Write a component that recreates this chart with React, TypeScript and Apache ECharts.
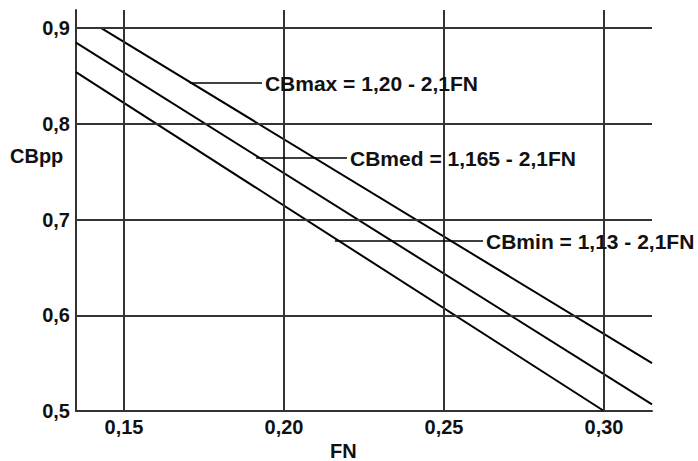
import React, { useEffect, useRef } from "react";
import * as echarts from "echarts";

// Data (FN, CBpp) end points of each straight line
const cbMaxLine: [number, number][] = [
  [0.1429, 0.9],
  [0.315, 0.55],
];
const cbMedLine: [number, number][] = [
  [0.135, 0.885],
  [0.315, 0.507],
];
const cbMinLine: [number, number][] = [
  [0.135, 0.854],
  [0.3, 0.5],
];

const xTicks = [0.15, 0.2, 0.25, 0.3];
const yTicks = [0.5, 0.6, 0.7, 0.8, 0.9];

// Annotation leaders: [xStart, xEnd, y, text]
const annotations: [number, number, number, string][] = [
  [0.1706, 0.1931, 0.8426, "CBmax = 1,20 - 2,1FN"],
  [0.1913, 0.2197, 0.7642, "CBmed = 1,165 - 2,1FN"],
  [0.2159, 0.2622, 0.6775, "CBmin = 1,13 - 2,1FN"],
];

const FONT = "'Liberation Sans', Arial, sans-serif";

export default function App() {
  const ref = useRef<HTMLDivElement>(null);

  useEffect(() => {
    if (!ref.current) return;
    const chart = echarts.init(ref.current, null, { renderer: "svg" });

    const gridLineStyle = { color: "#333", width: 2, type: "solid" as const };
    const lineStyle = { color: "#000", width: 2 };

    const gridMarks = [
      ...xTicks.map((v) => ({ xAxis: v })),
      ...yTicks.slice(1).map((v) => ({ yAxis: v })),
    ];

    const annotationMarks = annotations.map(([x1, x2, y, text]) => [
      { coord: [x1, y] },
      {
        coord: [x2, y],
        label: {
          show: true,
          position: "end",
          formatter: text,
          color: "#111",
          fontFamily: FONT,
          fontWeight: "bold",
          fontSize: 21,
          distance: 3,
        },
      },
    ]);

    chart.setOption({
      animation: false,
      backgroundColor: "#fff",
      grid: { left: 76, right: 46, top: 10, bottom: 50, containLabel: false },
      xAxis: {
        type: "value",
        min: 0.135,
        max: 0.315,
        axisLine: { show: true, lineStyle: { color: "#333", width: 2 } },
        axisTick: { show: false },
        splitLine: { show: false },
        axisLabel: {
          customValues: xTicks,
          formatter: (v: number) => v.toFixed(2).replace(".", ","),
          color: "#111",
          fontFamily: FONT,
          fontWeight: "bold",
          fontSize: 20,
          margin: 6,
        },
      },
      yAxis: {
        type: "value",
        min: 0.5,
        max: 0.919,
        axisLine: { show: true, lineStyle: { color: "#333", width: 2 } },
        axisTick: { show: false },
        splitLine: { show: false },
        axisLabel: {
          customValues: yTicks,
          formatter: (v: number) => v.toFixed(1).replace(".", ","),
          color: "#111",
          fontFamily: FONT,
          fontWeight: "bold",
          fontSize: 20,
          margin: 6,
        },
      },
      graphic: [
        {
          type: "text",
          left: 10,
          top: 146,
          style: {
            text: "CBpp",
            fill: "#111",
            font: `bold 20px ${FONT}`,
          },
        },
        {
          type: "text",
          left: 330,
          top: 441,
          style: {
            text: "FN",
            fill: "#111",
            font: `bold 20px ${FONT}`,
          },
        },
      ],
      series: [
        {
          type: "line",
          name: "grid",
          data: [],
          silent: true,
          markLine: {
            silent: true,
            symbol: ["none", "none"],
            label: { show: false },
            lineStyle: gridLineStyle,
            data: gridMarks,
          },
        },
        {
          type: "line",
          name: "CBmax",
          data: cbMaxLine,
          symbol: "none",
          lineStyle,
          itemStyle: { color: "#000" },
        },
        {
          type: "line",
          name: "CBmed",
          data: cbMedLine,
          symbol: "none",
          lineStyle,
          itemStyle: { color: "#000" },
        },
        {
          type: "line",
          name: "CBmin",
          data: cbMinLine,
          symbol: "none",
          lineStyle,
          itemStyle: { color: "#000" },
          markLine: {
            silent: true,
            symbol: ["none", "none"],
            lineStyle: { color: "#000", width: 1.5, type: "solid" },
            data: annotationMarks,
          },
        },
      ],
    });

    return () => chart.dispose();
  }, []);

  return (
    <div
      ref={ref}
      style={{
        position: "fixed",
        left: 0,
        top: 0,
        width: 698,
        height: 461,
        background: "#fff",
      }}
    />
  );
}
